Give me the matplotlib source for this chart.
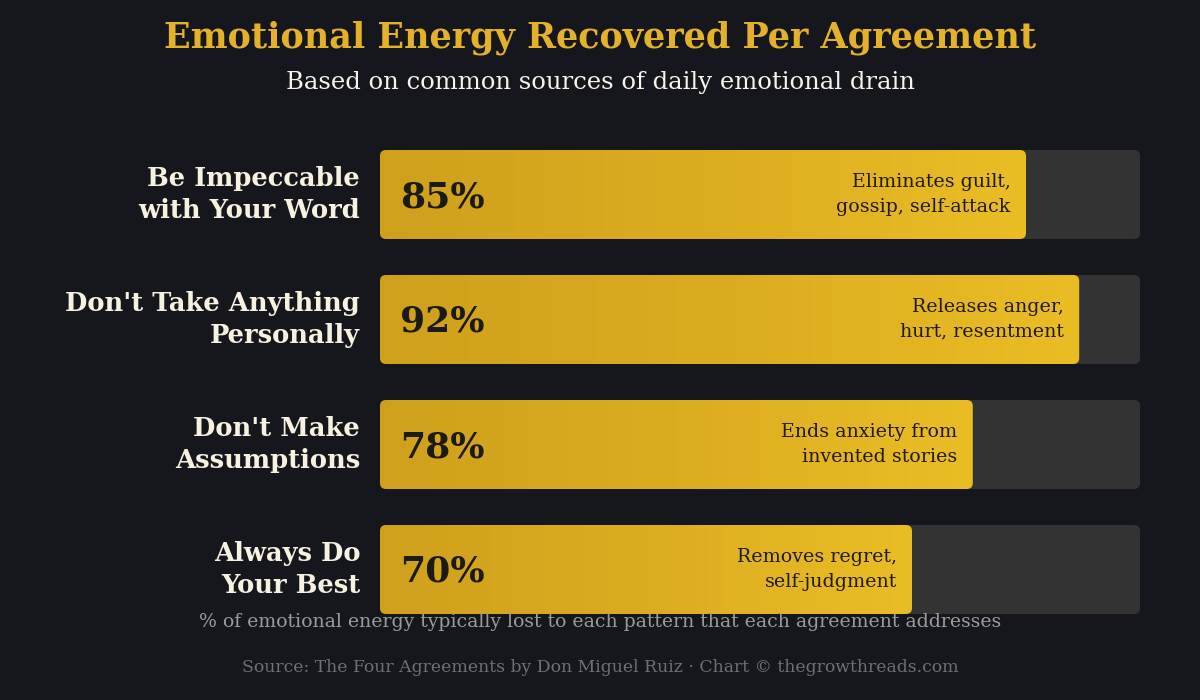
import numpy as np
import matplotlib.pyplot as plt
from matplotlib.patches import FancyBboxPatch
from matplotlib.colors import LinearSegmentedColormap

# data
agreements = ["Be Impeccable\nwith Your Word", "Don't Take Anything\nPersonally",
              "Don't Make\nAssumptions", "Always Do\nYour Best"]
recovered = [85, 92, 78, 70]
notes = ["Eliminates guilt,\ngossip, self-attack", "Releases anger,\nhurt, resentment",
         "Ends anxiety from\ninvented stories", "Removes regret,\nself-judgment"]

bg = "#16171c"
gold = "#e3b12a"
track = "#333333"
serif = "DejaVu Serif"

fig = plt.figure(figsize=(12, 7), dpi=100, facecolor=bg)
# axes spans 380..1140 px horizontally, 132..632 px vertically
ax = fig.add_axes([380/1200, 68/700, 760/1200, 500/700])
ax.set_facecolor(bg)
ax.set_xlim(0, 100)
ax.set_ylim(3.5, -0.5)
ax.axis("off")

h = 0.712
rx = 0.8            # rounding in x units (~6px)
asp = (6/125) / rx  # y rounding / x rounding
cmap = LinearSegmentedColormap.from_list("g", ["#cfa01c", "#dcac20", "#eabd25"])
grad = np.linspace(0, 1, 256).reshape(1, -1)

for i, (lab, val, note) in enumerate(zip(agreements, recovered, notes)):
    bgbox = FancyBboxPatch((0, i - h/2), 100, h, boxstyle=f"round,pad=0,rounding_size={rx}",
                           mutation_aspect=asp, fc=track, ec="none")
    ax.add_patch(bgbox)
    box = FancyBboxPatch((0, i - h/2), val, h, boxstyle=f"round,pad=0,rounding_size={rx}",
                         mutation_aspect=asp, fc="none", ec="none")
    ax.add_patch(box)
    im = ax.imshow(grad, cmap=cmap, aspect="auto", extent=[0, val, i + h/2, i - h/2], zorder=2)
    im.set_clip_path(box)
    ax.text(2.6, i + 0.02, f"{val}%", ha="left", va="center", fontsize=26, fontweight="bold",
            color="#1c1a14", family=serif, zorder=3)
    ax.text(val - 2.0, i, note, ha="right", va="center", fontsize=13.7, color="#1f1c15",
            family=serif, linespacing=1.45, zorder=3)
    ax.text(-2.6, i, lab, ha="right", va="center", fontsize=18.5, fontweight="bold",
            color="#f7f1e1", family=serif, linespacing=1.32, clip_on=False)

ax.set_xlim(0, 100)
ax.set_ylim(3.5, -0.5)

fig.text(0.5, 1 - 38/700, "Emotional Energy Recovered Per Agreement", ha="center", va="center",
         fontsize=25.2, fontweight="bold", color=gold, family=serif)
fig.text(0.5, 1 - 82/700, "Based on common sources of daily emotional drain", ha="center",
         va="center", fontsize=17.5, color="#f7f4ec", family=serif)
fig.text(0.5, 1 - 622/700, "% of emotional energy typically lost to each pattern that each agreement addresses",
         ha="center", va="center", fontsize=13.6, color="#9a9a9a", family=serif)
fig.text(0.5, 1 - 668/700, "Source: The Four Agreements by Don Miguel Ruiz \u00b7 Chart \u00a9 thegrowthreads.com",
         ha="center", va="center", fontsize=12.4, color="#707070", family=serif)

fig.savefig("out.png", dpi=100, facecolor=bg)
